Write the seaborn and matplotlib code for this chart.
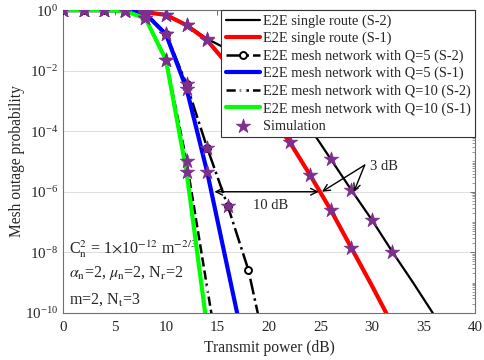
import numpy as np
import pandas as pd
import matplotlib
matplotlib.use("Agg")
import matplotlib.pyplot as plt
import seaborn as sns
from matplotlib.ticker import FixedLocator, LogLocator, NullFormatter, LogFormatterSciNotation

# ---------------- data (log10 of outage probability) ----------------
x_single_s2 = [0, 2, 4, 6, 8, 10, 12, 14, 16, 18, 20, 22, 24, 26, 28, 30, 32, 34, 36]
log_single_s2 = [0, 0, 0, -0.01, -0.06, -0.15, -0.48, -0.95, -1.3, -1.75, -2.3, -2.95,
                 -3.9, -4.92, -5.94, -6.93, -7.99, -9.0, -10.05]

x_single_s1 = [0, 2, 4, 6, 8, 10, 12, 14, 16, 18, 20, 22, 24, 26, 28, 30, 32]
log_single_s1 = [0, 0, 0, -0.01, -0.07, -0.16, -0.5, -1.0, -1.8, -2.6, -3.45, -4.35,
                 -5.45, -6.6, -7.85, -9.1, -10.4]

x_q5_s2 = [0, 2, 4, 6, 8, 10, 12, 14, 16, 18, 20]
log_q5_s2 = [0, 0, 0, -0.01, -0.1, -0.78, -2.45, -4.55, -6.47, -8.58, -11.7]

x_q5_s1 = [0, 2, 4, 6, 8, 10, 12, 14, 16, 18]
log_q5_s1 = [0, 0, 0, -0.01, -0.12, -0.8, -2.6, -5.35, -8.55, -11.75]

x_q10_s2 = [0, 2, 4, 6, 8, 10, 12, 14, 16]
log_q10_s2 = [0, 0, 0, -0.03, -0.25, -1.65, -5.0, -9.17, -13.3]

x_q10_s1 = [0, 2, 4, 6, 8, 10, 12, 14]
log_q10_s1 = [0, 0, 0, -0.03, -0.27, -1.65, -5.35, -10.5]

# number of simulated points (from x=0 upward) on each curve
n_sim = [17, 15, 9, 8, 7, 7]

labels = ["E2E single route (S-2)", "E2E single route (S-1)",
          "E2E mesh network with Q=5 (S-2)", "E2E mesh network with Q=5 (S-1)",
          "E2E mesh network with Q=10 (S-2)", "E2E mesh network with Q=10 (S-1)"]
sim_label = "Simulation"

x_ticks = [0, 5, 10, 15, 20, 25, 30, 35, 40]
y_tick_exp = [0, -2, -4, -6, -8, -10]

# ---------------- style ----------------
sns.set_theme(style="white")
plt.rcParams["font.family"] = ["Liberation Serif", "DejaVu Serif"]
plt.rcParams["mathtext.fontset"] = "stix"

fig = plt.figure(figsize=(4.85, 3.6), dpi=100)
ax = fig.add_axes([0.130, 0.131, 0.849, 0.841])

series = [(x_single_s2, log_single_s2), (x_single_s1, log_single_s1),
          (x_q5_s2, log_q5_s2), (x_q5_s1, log_q5_s1),
          (x_q10_s2, log_q10_s2), (x_q10_s1, log_q10_s1)]
styles = [
    dict(color="black", linewidth=1.6, linestyle="-"),
    dict(color="#ff0000", linewidth=3.0, linestyle="-"),
    dict(color="black", linewidth=1.8, linestyle="-.", marker="o", markersize=5,
         markerfacecolor="white", markeredgecolor="black", markeredgewidth=1.4),
    dict(color="#0000ff", linewidth=3.0, linestyle="-"),
    dict(color="black", linewidth=1.8, linestyle="--", marker="+", markersize=5,
         markeredgewidth=1.8),
    dict(color="#00ff00", linewidth=3.0, linestyle="-"),
]

handles = []
for (xs, ls), st, lab in zip(series, styles, labels):
    df = pd.DataFrame({"x": xs, "y": np.power(10.0, ls)})
    sns.lineplot(data=df, x="x", y="y", ax=ax, legend=False, zorder=3, **st)
    line = ax.lines[-1]
    line.set_label(lab)
    handles.append(line)

purple = "#7e2f8e"
sim_handle = None
for (xs, ls), n in zip(series, n_sim):
    df = pd.DataFrame({"x": xs[:n], "y": np.power(10.0, ls[:n])})
    sns.scatterplot(data=df, x="x", y="y", ax=ax, marker="*", s=120,
                    color=purple, edgecolor=purple, linewidth=0.5,
                    legend=False, zorder=4)
    sim_handle = ax.collections[-1]
sim_handle.set_label(sim_label)
handles.append(sim_handle)

ax.set_yscale("log")
ax.set_xlim(0, 40)
ax.set_ylim(1e-10, 1.0)
ax.xaxis.set_major_locator(FixedLocator(x_ticks))
ax.yaxis.set_major_locator(FixedLocator([10.0 ** e for e in y_tick_exp]))
ax.yaxis.set_major_formatter(LogFormatterSciNotation())
ax.yaxis.set_minor_locator(LogLocator(base=10, subs=np.arange(1, 10), numticks=100))
ax.yaxis.set_minor_formatter(NullFormatter())

ax.grid(True, axis="y", which="major", color="#dddddd", linewidth=0.7)
ax.grid(False, axis="x")
for sp in ax.spines.values():
    sp.set_color("#707070")
    sp.set_linewidth(0.8)
ax.tick_params(axis="both", which="both", direction="in", top=True, right=True,
               colors="#707070", labelcolor="#262626", labelsize=10.8)
ax.tick_params(axis="both", which="major", length=3.5, width=0.7)
ax.tick_params(axis="x", which="major", pad=6)
ax.tick_params(axis="y", which="minor", length=2, width=0.5)
ax.set_xlabel("Transmit power (dB)", fontsize=11.2, color="#262626", labelpad=4)
ax.set_ylabel("Mesh outage probability", fontsize=11.2, color="#262626", labelpad=0)

leg = ax.legend(handles=handles, loc="upper right", bbox_to_anchor=(1.0, 1.0),
                borderaxespad=0.0, fontsize=10.4, handlelength=2.4,
                handletextpad=0.15, labelspacing=0.28, borderpad=0.3,
                frameon=True, fancybox=False, framealpha=1.0)
leg.get_frame().set_edgecolor("#333333")
leg.get_frame().set_linewidth(0.8)
leg.set_zorder(10)

# annotations
ax.annotate("", xy=(14.7, 1e-6), xytext=(24.85, 1e-6),
            arrowprops=dict(arrowstyle="<->", color="black", lw=1.0,
                            shrinkA=0, shrinkB=0), zorder=6)
ax.text(20.2, 10 ** -6.47, "10 dB", ha="center", va="center", fontsize=10.5)
for tip in (25.15, 28.25):
    ax.annotate("", xy=(tip, 1e-6), xytext=(29.3, 10 ** -5.12),
                arrowprops=dict(arrowstyle="->", color="black", lw=1.0,
                                shrinkA=0, shrinkB=0), zorder=6)
ax.text(29.8, 10 ** -5.15, "3 dB", ha="left", va="center", fontsize=10.5)

ax.text(0.6, 10 ** -8.05, r"C$_\mathrm{n}^2$ = 1$\times$10$^{-12}$ m$^{-2/3}$",
        ha="left", va="baseline", fontsize=11.5, zorder=2)
ax.text(0.6, 10 ** -8.81, r"$\alpha_\mathrm{n}$=2, $\mu_\mathrm{n}$=2, N$_\mathrm{r}$=2",
        ha="left", va="baseline", fontsize=11.5, zorder=2)
ax.text(0.6, 10 ** -9.7, r"m=2, N$_\mathrm{t}$=3",
        ha="left", va="baseline", fontsize=11.5, zorder=2)

fig.savefig("out.png", dpi=100)
